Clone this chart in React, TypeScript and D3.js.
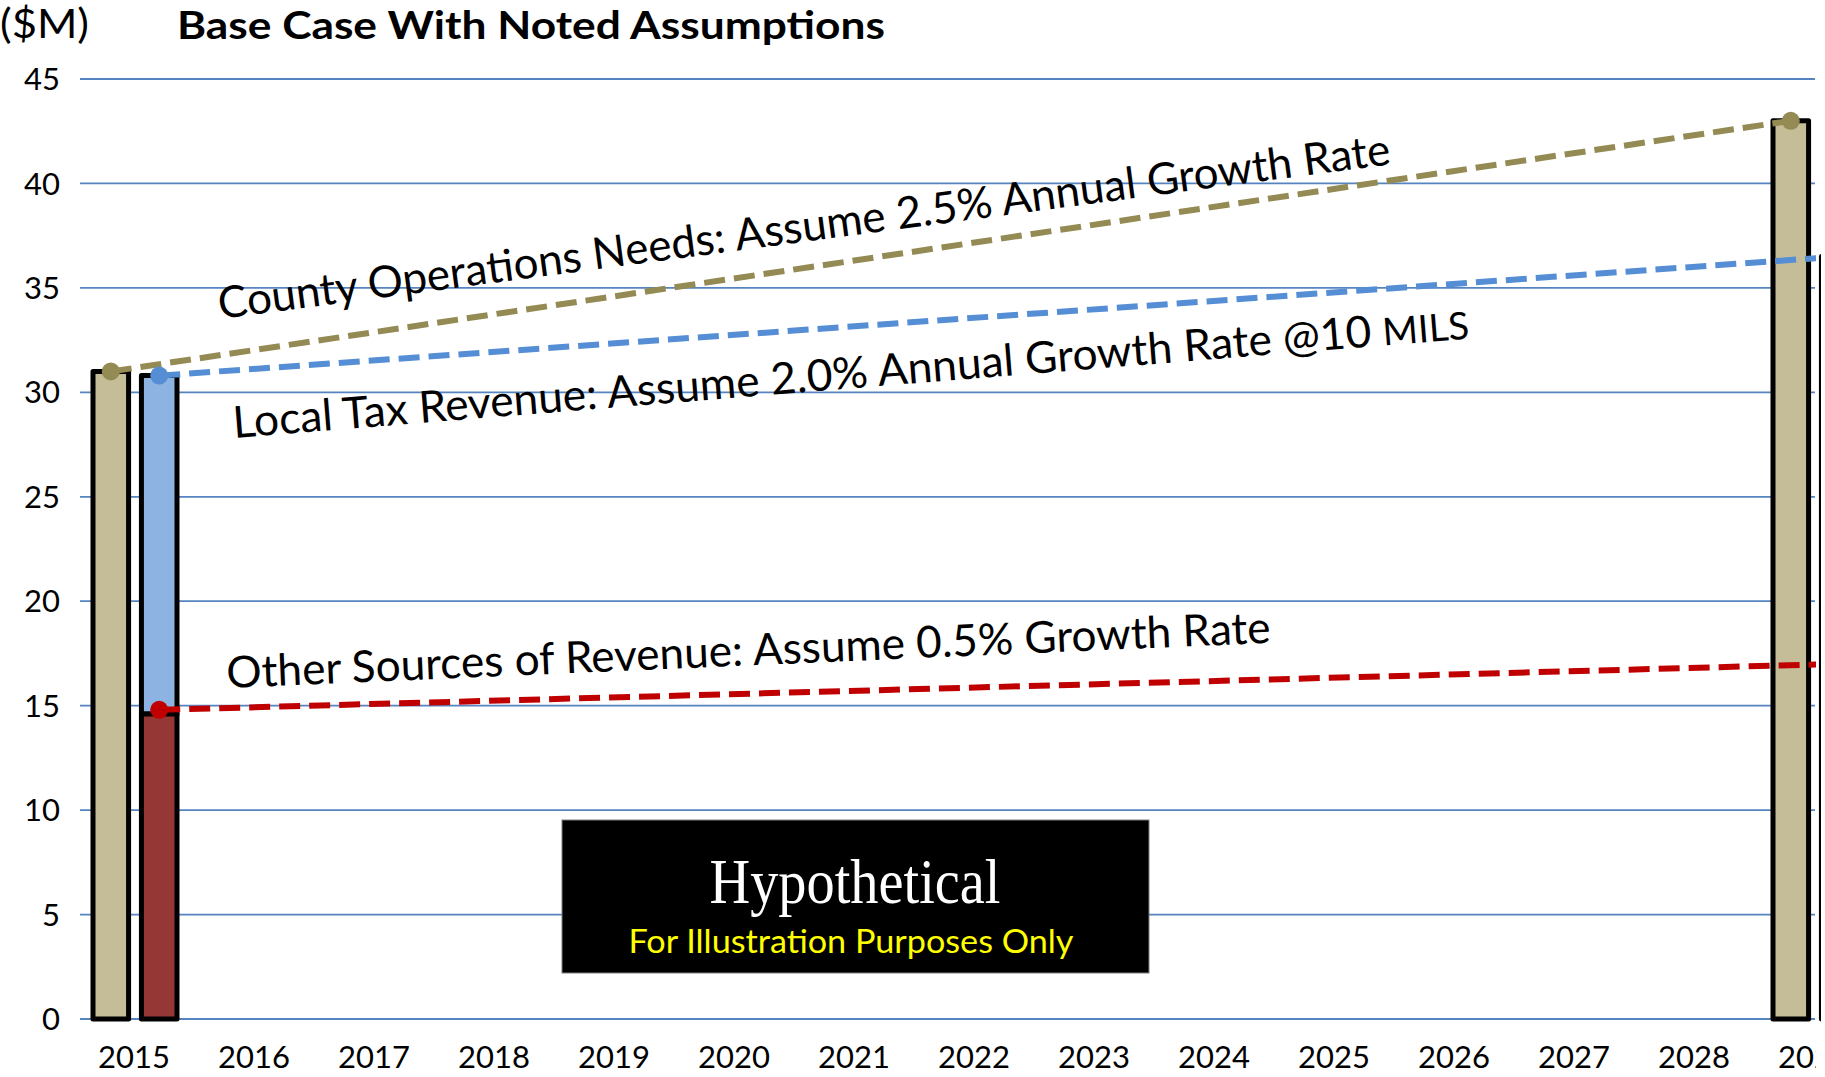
import * as d3 from "d3";
import React, { useEffect, useRef } from "react";

// categories on the x axis
const years = [
  "2015", "2016", "2017", "2018", "2019", "2020", "2021", "2022",
  "2023", "2024", "2025", "2026", "2027", "2028", "2029",
];
const yTicks = [0, 5, 10, 15, 20, 25, 30, 35, 40, 45];

// bars are only drawn at the two ends of the horizon
const barYears = ["2015", "2029"];
const countyNeeds = [31.0, 43.0]; // tan bar
const otherRevenue = [14.6, 17.0]; // red segment
const localTax = [16.2, 19.5]; // blue segment on top of red

// dashed projection lines (start / end values)
const opsLine = [31.0, 43.0];
const taxLine = [30.8, 36.5];
const otherLine = [14.8, 17.0];

const W = 1825;
const H = 1077;
const FONT = "Lato, 'Open Sans', sans-serif";

export default function App() {
  const ref = useRef(null);

  useEffect(() => {
    const svg = d3.select(ref.current);
    svg.selectAll("*").remove();

    const x = d3.scaleBand().domain(years).range([74, 74 + 15 * 120]).padding(0);
    const y = d3.scaleLinear().domain([0, 45]).range([1019, 79]);
    // two bars per year: county needs / revenue stack
    const sub = d3
      .scaleBand()
      .domain(["ops", "rev"])
      .range([-41, 43])
      .paddingInner(13 / 49)
      .paddingOuter(0);
    const cx = (yr, k) => x(yr) + x.bandwidth() / 2 + sub(k) + sub.bandwidth() / 2;

    const defs = svg.append("defs");
    defs.append("clipPath").attr("id", "plotclip")
      .append("rect").attr("x", 0).attr("y", 0).attr("width", 1816).attr("height", H);
    defs.append("clipPath").attr("id", "barclip")
      .append("rect").attr("x", 0).attr("y", 0).attr("width", 1821).attr("height", H);

    const g = svg.append("g").attr("clip-path", "url(#plotclip)");

    // gridlines
    g.append("g")
      .selectAll("line")
      .data(yTicks)
      .join("line")
      .attr("x1", 80)
      .attr("x2", 1815)
      .attr("y1", (d) => y(d))
      .attr("y2", (d) => y(d))
      .attr("stroke", "#5584C0")
      .attr("stroke-width", 1.8);

    // y labels
    g.append("g")
      .selectAll("text")
      .data(yTicks)
      .join("text")
      .attr("x", 60)
      .attr("y", (d) => y(d))
      .attr("dy", "0.36em")
      .attr("text-anchor", "end")
      .attr("font-family", FONT)
      .attr("font-size", 31)
      .text((d) => d);

    // x labels
    g.append("g")
      .selectAll("text")
      .data(years)
      .join("text")
      .attr("x", (d) => x(d) + x.bandwidth() / 2)
      .attr("y", 1068)
      .attr("text-anchor", "middle")
      .attr("font-family", FONT)
      .attr("font-size", 31)
      .text((d) => d);

    const bw = sub.bandwidth();
    const barStyle = (s) =>
      s.attr("stroke", "#000").attr("stroke-width", 5).attr("stroke-linejoin", "round");

    const gb = svg.append("g").attr("clip-path", "url(#barclip)");

    // tan bars
    gb.append("g")
      .selectAll("rect")
      .data(barYears)
      .join("rect")
      .attr("x", (d) => cx(d, "ops") - bw / 2)
      .attr("y", (d, i) => y(countyNeeds[i]))
      .attr("width", bw)
      .attr("height", (d, i) => y(0) - y(countyNeeds[i]))
      .attr("fill", "#C4BD97")
      .call(barStyle);

    // stacked revenue bars
    gb.append("g")
      .selectAll("rect")
      .data(barYears)
      .join("rect")
      .attr("x", (d) => cx(d, "rev") - bw / 2)
      .attr("y", (d, i) => y(otherRevenue[i] + localTax[i]))
      .attr("width", bw)
      .attr("height", (d, i) => y(otherRevenue[i]) - y(otherRevenue[i] + localTax[i]))
      .attr("fill", "#8DB3E2")
      .call(barStyle);

    gb.append("g")
      .selectAll("rect")
      .data(barYears)
      .join("rect")
      .attr("x", (d) => cx(d, "rev") - bw / 2)
      .attr("y", (d, i) => y(otherRevenue[i]))
      .attr("width", bw)
      .attr("height", (d, i) => y(0) - y(otherRevenue[i]))
      .attr("fill", "#953735")
      .call(barStyle);

    // dashed lines + end markers, above the bars
    const gl = svg.append("g").attr("clip-path", "url(#plotclip)");
    const series = [
      { vals: opsLine, key: "ops", color: "#948A54", dots: [0, 1] },
      { vals: taxLine, key: "rev", color: "#558ED5", dots: [0] },
      { vals: otherLine, key: "rev", color: "#C00000", dots: [0] },
    ];
    const line = d3
      .line()
      .x((d) => d[0])
      .y((d) => d[1]);
    series.forEach((s) => {
      const pts = barYears.map((yr, i) => [cx(yr, s.key), y(s.vals[i])]);
      gl.append("path")
        .attr("d", line(pts))
        .attr("fill", "none")
        .attr("stroke", s.color)
        .attr("stroke-width", 6)
        .attr("stroke-dasharray", "21 9");
      gl.append("g")
        .selectAll("circle")
        .data(s.dots.map((i) => pts[i]))
        .join("circle")
        .attr("cx", (d) => d[0])
        .attr("cy", (d) => d[1])
        .attr("r", 9)
        .attr("fill", s.color);
    });

    // rotated annotations
    const notes = [
      { t: "County Operations Needs: Assume 2.5% Annual Growth Rate", x: 220, y: 319, a: -7.53, len: 1182 },
      { t: "Local Tax Revenue: Assume 2.0% Annual Growth Rate @10 ", small: "MILS", x: 234, y: 438, a: -4.6, len: 1240 },
      { t: "Other Sources of Revenue: Assume 0.5% Growth Rate", x: 227, y: 688, a: -2.48, len: 1045 },
    ];
    notes.forEach((n) => {
      const t = gl
        .append("text")
        .attr("transform", `translate(${n.x},${n.y}) rotate(${n.a})`)
        .attr("font-family", FONT)
        .attr("font-size", 44)
        .attr("textLength", n.len)
        .attr("lengthAdjust", "spacingAndGlyphs");
      t.append("tspan").text(n.t);
      if (n.small) t.append("tspan").attr("font-size", 38).text(n.small);
    });

    // hypothetical box
    svg
      .append("rect")
      .attr("x", 562)
      .attr("y", 820)
      .attr("width", 587)
      .attr("height", 153)
      .attr("fill", "#000")
      .attr("stroke", "#7f7f7f")
      .attr("stroke-width", 1);
    svg
      .append("text")
      .attr("x", 855)
      .attr("y", 903)
      .attr("text-anchor", "middle")
      .attr("font-family", "'Liberation Serif', 'DejaVu Serif', serif")
      .attr("font-size", 64)
      .attr("fill", "#fff")
      .attr("textLength", 291)
      .attr("lengthAdjust", "spacingAndGlyphs")
      .text("Hypothetical");
    svg
      .append("text")
      .attr("x", 851)
      .attr("y", 953)
      .attr("text-anchor", "middle")
      .attr("font-family", FONT)
      .attr("font-size", 33)
      .attr("fill", "#FFFF00")
      .attr("textLength", 445)
      .attr("lengthAdjust", "spacingAndGlyphs")
      .text("For Illustration Purposes Only");

    // header texts
    svg
      .append("text")
      .attr("x", 0)
      .attr("y", 38)
      .attr("font-family", FONT)
      .attr("font-size", 40)
      .attr("textLength", 89)
      .attr("lengthAdjust", "spacingAndGlyphs")
      .text("($M)");
    svg
      .append("text")
      .attr("x", 177)
      .attr("y", 39)
      .attr("font-family", FONT)
      .attr("font-weight", "bold")
      .attr("font-size", 39)
      .attr("textLength", 708)
      .attr("lengthAdjust", "spacingAndGlyphs")
      .text("Base Case With Noted Assumptions");
  }, []);

  return (
    <svg
      ref={ref}
      width={W}
      height={H}
      style={{ position: "absolute", left: 0, top: 0, background: "#fff" }}
    ></svg>
  );
}
